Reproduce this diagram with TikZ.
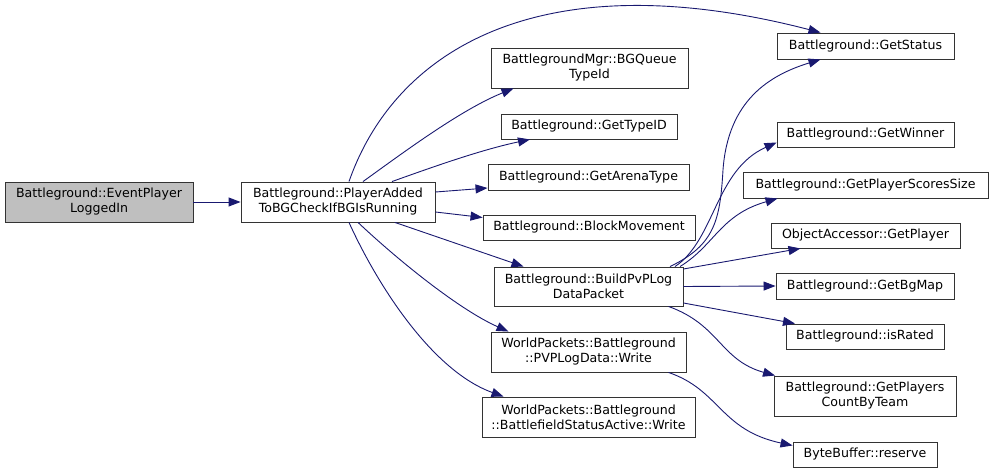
\documentclass[tikz,border=0pt]{standalone}
\usepackage{fontspec}
\setmainfont{DejaVu Sans}
\usepackage{tikz}
\usetikzlibrary{arrows.meta,calc}
\definecolor{edgeblue}{HTML}{191970}
\definecolor{rootgray}{HTML}{BFBFBF}

\begin{document}
\begin{tikzpicture}[x=1pt,y=-1pt,
	box/.style={draw=black!80, line width=0.9pt, fill=white, inner sep=0pt, align=center,
		font=\fontsize{12.6}{15}\selectfont},
	root/.style={box, fill=rootgray},
	call/.style={draw=edgeblue, line width=0.9pt, -{Triangle[length=12pt,width=9pt]}}]
	
	\useasboundingbox (0,0) rectangle (997,473);
	
	\node[root, minimum width=188pt, minimum height=40pt] (ev) at (99,202) {Battleground::EventPlayer\\LoggedIn};
	\node[box, minimum width=194pt, minimum height=40pt] (pa) at (338,202) {Battleground::PlayerAdded\\ToBGCheckIfBGIsRunning};
	
	\node[box, minimum width=197pt, minimum height=40pt] (bq) at (589.5,68) {BattlegroundMgr::BGQueue\\TypeId};
	\node[box, minimum width=176pt, minimum height=25pt] (gt) at (589,126.5) {Battleground::GetTypeID};
	\node[box, minimum width=201pt, minimum height=26pt] (ga) at (588.5,177) {Battleground::GetArenaType};
	\node[box, minimum width=212pt, minimum height=25pt] (bm) at (589,227.5) {Battleground::BlockMovement};
	\node[box, minimum width=189pt, minimum height=39pt] (bp) at (588.5,286.5) {Battleground::BuildPvPLog\\DataPacket};
	\node[box, minimum width=195pt, minimum height=40pt] (pw) at (588.5,352) {WorldPackets::Battleground\\::PVPLogData::Write};
	\node[box, minimum width=213pt, minimum height=40pt] (bs) at (588.5,417) {WorldPackets::Battleground\\::BattlefieldStatusActive::Write};
	
	\node[box, minimum width=177pt, minimum height=26pt] (gs) at (865.5,46) {Battleground::GetStatus};
	\node[box, minimum width=177pt, minimum height=25pt] (gw) at (865.5,134.5) {Battleground::GetWinner};
	\node[box, minimum width=245pt, minimum height=26pt] (gp) at (865.5,185) {Battleground::GetPlayerScoresSize};
	\node[box, minimum width=189pt, minimum height=25pt] (op) at (865.5,235.5) {ObjectAccessor::GetPlayer};
	\node[box, minimum width=178pt, minimum height=26pt] (gb) at (865,286) {Battleground::GetBgMap};
	\node[box, minimum width=158pt, minimum height=25pt] (ir) at (865,336.5) {Battleground::isRated};
	\node[box, minimum width=182pt, minimum height=40pt] (gc) at (865,396) {Battleground::GetPlayers\\CountByTeam};
	\node[box, minimum width=144pt, minimum height=25pt] (rs) at (865,454.5) {ByteBuffer::reserve};
	
	\draw[call] (ev.east) -- (pa.west);
	
	\draw[call] ([xshift=11pt]pa.north) .. controls (395,50) and (540,-40) .. ([xshift=-45pt]gs.north);
	\draw[call] ([xshift=25pt]pa.north) .. controls (400,155) and (460,110) .. ([xshift=-76pt]bq.south);
	\draw[call] ([xshift=54pt]pa.north) .. controls (430,168) and (480,150) .. ([xshift=-59pt]gt.south);
	\draw[call] ([yshift=10pt]pa.east) -- ([yshift=-11pt]ga.west);
	\draw[call] ([yshift=-10pt]pa.east) -- ([yshift=10pt]bm.west);
	\draw[call] ([xshift=57pt]pa.south) -- ([xshift=-65pt]bp.north);
	\draw[call] ([xshift=20pt]pa.south) .. controls (400,262) and (460,310) .. ([xshift=-80pt]pw.north);
	\draw[call] ([xshift=11pt]pa.south) .. controls (375,280) and (430,370) .. ([xshift=-85pt]bs.north);
	
	\draw[call] ([xshift=81.5pt]bp.north) .. controls (715,245) and (720,220) .. (723,170)
		.. controls (728,100) and (770,75) .. ([xshift=-45pt]gs.south);
	\draw[call] ([xshift=86.5pt]bp.north) .. controls (715,240) and (715,170) .. ([yshift=-8pt]gw.west);
	\draw[call] ([xshift=91.5pt]bp.north) .. controls (715,245) and (720,215) .. ([xshift=-88pt]gp.south);
	\draw[call] ([yshift=17.5pt]bp.east) -- ([xshift=-65pt]op.south);
	\draw[call] (bp.east) -- (gb.west);
	\draw[call] ([yshift=-16.5pt]bp.east) -- ([xshift=-70pt]ir.north);
	\draw[call] ([xshift=80pt]bp.south) .. controls (720,325) and (720,360) .. ([xshift=-90pt]gc.north);
	
	\draw[call] ([xshift=80pt]pw.south) .. controls (720,390) and (720,430) .. ([yshift=9pt]rs.west);
	
\end{tikzpicture}
\end{document}
